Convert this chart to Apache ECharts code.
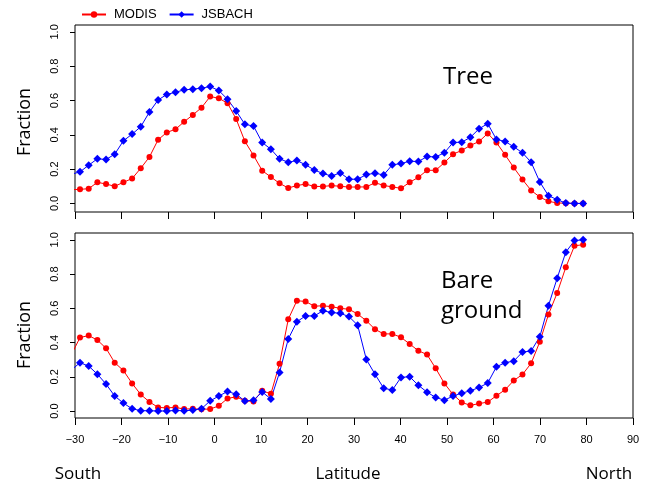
<!DOCTYPE html>
<html>
<head>
<meta charset="utf-8">
<script src="https://cdn.jsdelivr.net/npm/echarts@6/dist/echarts.min.js"></script>
<style>
html, body { margin: 0; padding: 0; background: #fff; }
#chart { width: 650px; height: 489px; }
</style>
</head>
<body>
<div id="chart"></div>
<script>
// latitude of each model band (first one falls just outside the axis and is clipped)
var latitude = [-30.78, -28.92, -27.05, -25.19, -23.32, -21.46, -19.59, -17.72, -15.86, -13.99,
    -12.13, -10.26, -8.39, -6.53, -4.66, -2.80, -0.93, 0.93, 2.80, 4.66,
    6.53, 8.39, 10.26, 12.13, 13.99, 15.86, 17.72, 19.59, 21.46, 23.32,
    25.19, 27.05, 28.92, 30.78, 32.65, 34.51, 36.38, 38.24, 40.11, 41.97,
    43.84, 45.71, 47.57, 49.44, 51.30, 53.17, 55.03, 56.90, 58.76, 60.63,
    62.50, 64.36, 66.23, 68.09, 69.96, 71.82, 73.69, 75.55, 77.42, 79.28];

var modisTree = [0.080, 0.082, 0.086, 0.123, 0.113, 0.100, 0.123, 0.145, 0.205, 0.271,
    0.371, 0.414, 0.432, 0.476, 0.516, 0.558, 0.623, 0.613, 0.584, 0.492,
    0.362, 0.280, 0.191, 0.154, 0.117, 0.090, 0.104, 0.113, 0.099, 0.099,
    0.104, 0.100, 0.095, 0.096, 0.096, 0.121, 0.105, 0.096, 0.088, 0.123,
    0.152, 0.193, 0.193, 0.238, 0.287, 0.309, 0.338, 0.361, 0.408, 0.355,
    0.283, 0.209, 0.139, 0.076, 0.037, 0.012, 0.003, 0.001, 0.000, 0.000];

var jsbachTree = [0.170, 0.184, 0.223, 0.260, 0.256, 0.287, 0.365, 0.404, 0.447, 0.533,
    0.603, 0.635, 0.648, 0.662, 0.666, 0.672, 0.681, 0.658, 0.607, 0.539,
    0.461, 0.451, 0.355, 0.316, 0.260, 0.240, 0.250, 0.225, 0.195, 0.174,
    0.160, 0.178, 0.141, 0.141, 0.168, 0.176, 0.166, 0.225, 0.232, 0.246,
    0.244, 0.273, 0.271, 0.295, 0.355, 0.357, 0.385, 0.435, 0.465, 0.373,
    0.361, 0.330, 0.295, 0.240, 0.125, 0.045, 0.022, 0.002, 0.000, 0.000];

var modisBare = [0.330, 0.430, 0.441, 0.415, 0.367, 0.283, 0.237, 0.162, 0.097, 0.054,
    0.022, 0.019, 0.022, 0.012, 0.014, 0.011, 0.012, 0.031, 0.074, 0.084,
    0.060, 0.057, 0.119, 0.101, 0.277, 0.536, 0.645, 0.640, 0.613, 0.615,
    0.610, 0.600, 0.595, 0.567, 0.528, 0.478, 0.451, 0.451, 0.431, 0.392,
    0.353, 0.330, 0.250, 0.162, 0.097, 0.051, 0.034, 0.044, 0.053, 0.090,
    0.125, 0.179, 0.214, 0.279, 0.405, 0.564, 0.690, 0.840, 0.965, 0.972];

var jsbachBare = [0.240, 0.283, 0.263, 0.216, 0.158, 0.088, 0.047, 0.014, 0.003, 0.002,
    0.001, 0.001, 0.004, 0.002, 0.006, 0.014, 0.060, 0.088, 0.115, 0.099,
    0.059, 0.064, 0.112, 0.071, 0.226, 0.421, 0.522, 0.556, 0.556, 0.586,
    0.576, 0.571, 0.552, 0.502, 0.302, 0.216, 0.134, 0.123, 0.197, 0.201,
    0.151, 0.111, 0.080, 0.064, 0.088, 0.105, 0.119, 0.138, 0.164, 0.259,
    0.283, 0.292, 0.345, 0.351, 0.435, 0.616, 0.776, 0.928, 0.996, 1.000];

var yTicks = [0, 0.2, 0.4, 0.6, 0.8, 1.0];

var RED = '#ff0000';
var BLUE = '#0000ff';
var AXIS_FONT = 'Liberation Sans';

function pairs(xs, ys) {
    var out = [];
    for (var i = 0; i < xs.length; i++) {
        out.push([xs[i], ys[i]]);
    }
    return out;
}

function makeX(idx, showLabels) {
    return {
        gridIndex: idx,
        type: 'value',
        min: -30,
        max: 90,
        interval: 10,
        axisLine: {show: false, onZero: false},
        splitLine: {show: false},
        axisTick: {show: true, length: 7, lineStyle: {color: '#000'}},
        axisLabel: {
            show: showLabels,
            margin: 16,
            fontSize: 11,
            fontFamily: AXIS_FONT,
            color: '#000',
            showMinLabel: true,
            showMaxLabel: true,
            formatter: function (v) {
                return String(v).replace('-', '\u2212');
            }
        }
    };
}

function makeY(idx, min, max) {
    return {
        gridIndex: idx,
        type: 'value',
        min: min,
        max: max,
        axisLine: {show: false, onZero: false},
        splitLine: {show: false},
        axisTick: {show: true, length: 5, lineStyle: {color: '#000'}, customValues: yTicks},
        axisLabel: {
            rotate: 90,
            margin: 15,
            fontSize: 11,
            fontFamily: AXIS_FONT,
            color: '#000',
            customValues: yTicks,
            formatter: function (v) {
                return v.toFixed(1);
            }
        }
    };
}

function makeSeries(name, idx, ys, color, symbol, size) {
    return {
        name: name,
        type: 'line',
        xAxisIndex: idx,
        yAxisIndex: idx,
        data: pairs(latitude, ys),
        symbol: symbol,
        symbolSize: size,
        showAllSymbol: true,
        clip: true,
        lineStyle: {color: color, width: 1},
        itemStyle: {color: color},
        emphasis: {disabled: true}
    };
}

var chart = echarts.init(document.getElementById('chart'), null, {renderer: 'canvas'});

var option = {
    backgroundColor: '#ffffff',
    animation: false,
    legend: {
        left: 76,
        top: 3,
        itemWidth: 24,
        itemHeight: 8,
        itemGap: 12,
        textStyle: {fontFamily: AXIS_FONT, fontSize: 13, color: '#000', padding: [0, 0, 0, 3]},
        data: ['MODIS', 'JSBACH']
    },
    grid: [
        {left: 75, top: 25, width: 558, height: 187, show: true, borderColor: '#000', borderWidth: 1, backgroundColor: 'transparent'},
        {left: 75, top: 233, width: 558, height: 185, show: true, borderColor: '#000', borderWidth: 1, backgroundColor: 'transparent'}
    ],
    xAxis: [makeX(0, false), makeX(1, true)],
    yAxis: [makeY(0, -0.05, 1.04), makeY(1, -0.04, 1.04)],
    series: [
        makeSeries('MODIS', 0, modisTree, RED, 'circle', 6),
        makeSeries('JSBACH', 0, jsbachTree, BLUE, 'diamond', 8),
        makeSeries('MODIS', 1, modisBare, RED, 'circle', 6),
        makeSeries('JSBACH', 1, jsbachBare, BLUE, 'diamond', 8)
    ],
    graphic: [
        {type: 'text', x: 468, y: 77, style: {text: 'Tree', font: '24px "Open Sans"', fill: '#000', align: 'center', verticalAlign: 'middle'}},
        {type: 'text', x: 441, y: 281, style: {text: 'Bare', font: '24px "Open Sans"', fill: '#000', align: 'left', verticalAlign: 'middle'}},
        {type: 'text', x: 441, y: 311, style: {text: 'ground', font: '24px "Open Sans"', fill: '#000', align: 'left', verticalAlign: 'middle'}},
        {type: 'text', x: 25, y: 122, rotation: Math.PI / 2, style: {text: 'Fraction', font: '18px "Open Sans"', fill: '#000', align: 'center', verticalAlign: 'middle'}},
        {type: 'text', x: 25, y: 335, rotation: Math.PI / 2, style: {text: 'Fraction', font: '18px "Open Sans"', fill: '#000', align: 'center', verticalAlign: 'middle'}},
        {type: 'text', x: 78, y: 474, style: {text: 'South', font: '17px "Open Sans"', fill: '#000', align: 'center', verticalAlign: 'middle'}},
        {type: 'text', x: 348, y: 474, style: {text: 'Latitude', font: '17px "Open Sans"', fill: '#000', align: 'center', verticalAlign: 'middle'}},
        {type: 'text', x: 609, y: 474, style: {text: 'North', font: '17px "Open Sans"', fill: '#000', align: 'center', verticalAlign: 'middle'}}
    ]
};

chart.setOption(option);
</script>
</body>
</html>
